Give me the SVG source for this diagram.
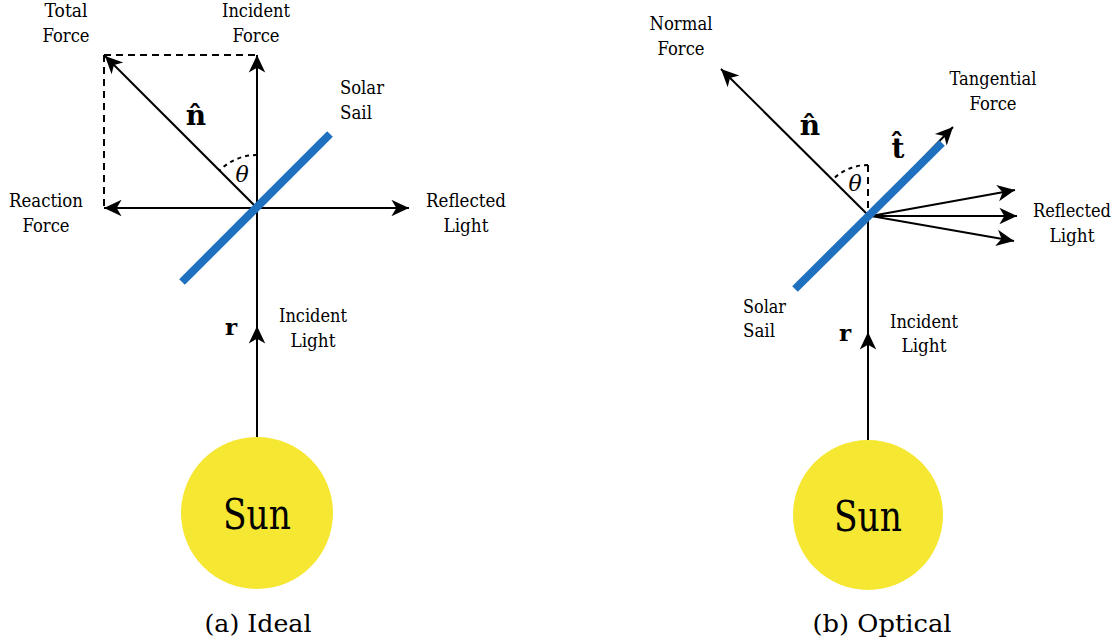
<svg xmlns="http://www.w3.org/2000/svg" width="1120" height="644" viewBox="0 0 1120 644" font-family="DejaVu Serif, serif">
<style>
text{font-family:'DejaVu Serif',serif;fill:#000}
.lbl{font-size:18.5px;text-anchor:middle}
.lbll{font-size:18.5px}
.vec{font-size:28px;font-weight:bold;text-anchor:middle}
.r{font-size:23px;font-weight:bold;text-anchor:middle}
.th{font-size:22px;font-style:italic;text-anchor:middle}
.sun{font-size:43px;text-anchor:middle}
.cap{font-size:23.5px;text-anchor:middle}
.ln{stroke:#000;stroke-width:2;fill:none}
.ar{stroke:#000;stroke-width:2;fill:none;marker-end:url(#ah)}
.dash{stroke:#000;stroke-width:2;fill:none;stroke-dasharray:7 5}
.dot{stroke:#000;stroke-width:2;fill:none;stroke-dasharray:4 4}
.sail{stroke:#1f71bf;stroke-width:8;fill:none}
.sunc{fill:#f6e732}
</style>
<defs>
<marker id="ah" markerUnits="userSpaceOnUse" markerWidth="22" markerHeight="22" viewBox="-18 -9 20 18" refX="0" refY="0" orient="auto">
<path d="M0,0 L-16,-7.5 L-11.5,0 L-16,7.5 Z" fill="#000"/>
</marker>
</defs>

<g id="connectors">
<path class="dash" d="M104,55 H257"/>
<path class="dash" d="M104,55 V208"/>
<path class="ar" d="M257,437 V326"/>
<path class="ar" d="M257,326 V55"/>
<path class="ar" d="M257,208 H104"/>
<path class="ar" d="M257,208 H409"/>
<path class="ar" d="M257,208 L105,56"/>
<path class="dot" d="M257,155 A53,53 0 0 0 219.5,170.5"/>
<path class="ar" d="M868,440 V332"/>
<path class="ln" d="M868,332 V215"/>
<path class="ar" d="M868,215 L721,69"/>
<path class="ar" d="M868,215 L953,127"/>
<path class="dash" d="M868,165 V215"/>
<path class="dot" d="M868,165 A50,50 0 0 0 832.6,179.6"/>
<path class="ar" d="M871,216 L1015,190"/>
<path class="ar" d="M871,216 H1017"/>
<path class="ar" d="M871,216 L1014,241"/>
</g>

<g id="sail-a"><path class="sail" d="M182,282 L330,134"/></g>
<g id="sail-b"><path class="sail" d="M795,289 L942,143"/></g>

<g id="sun-a">
<circle class="sunc" cx="257" cy="513" r="76"/>
<text class="sun" x="257" y="529" textLength="68" lengthAdjust="spacingAndGlyphs">Sun</text>
</g>
<g id="sun-b">
<circle class="sunc" cx="868" cy="515" r="75"/>
<text class="sun" x="868" y="531" textLength="68" lengthAdjust="spacingAndGlyphs">Sun</text>
</g>

<g id="labels-a">
<text class="lbl" x="66" y="17" textLength="43" lengthAdjust="spacingAndGlyphs">Total</text>
<text class="lbl" x="66" y="42" textLength="47" lengthAdjust="spacingAndGlyphs">Force</text>
<text class="lbl" x="256" y="17" textLength="68" lengthAdjust="spacingAndGlyphs">Incident</text>
<text class="lbl" x="256" y="42" textLength="47" lengthAdjust="spacingAndGlyphs">Force</text>
<text class="lbll" x="340" y="94" textLength="44" lengthAdjust="spacingAndGlyphs">Solar</text>
<text class="lbll" x="340" y="119" textLength="32" lengthAdjust="spacingAndGlyphs">Sail</text>
<text class="lbl" x="46" y="207" textLength="74" lengthAdjust="spacingAndGlyphs">Reaction</text>
<text class="lbl" x="46" y="232" textLength="47" lengthAdjust="spacingAndGlyphs">Force</text>
<text class="lbl" x="466" y="207" textLength="80" lengthAdjust="spacingAndGlyphs">Reflected</text>
<text class="lbl" x="466" y="232" textLength="45" lengthAdjust="spacingAndGlyphs">Light</text>
<text class="lbl" x="313" y="322" textLength="68" lengthAdjust="spacingAndGlyphs">Incident</text>
<text class="lbl" x="313" y="347" textLength="45" lengthAdjust="spacingAndGlyphs">Light</text>
<text class="r" x="231" y="335">r</text>
<text class="vec" x="196" y="125">n&#x302;</text>
<text class="th" x="242" y="182">θ</text>
<text class="cap" x="258" y="632" textLength="107" lengthAdjust="spacingAndGlyphs">(a) Ideal</text>
</g>

<g id="labels-b">
<text class="lbl" x="681" y="30" textLength="63" lengthAdjust="spacingAndGlyphs">Normal</text>
<text class="lbl" x="681" y="55" textLength="47" lengthAdjust="spacingAndGlyphs">Force</text>
<text class="lbl" x="993" y="85" textLength="87" lengthAdjust="spacingAndGlyphs">Tangential</text>
<text class="lbl" x="993" y="110" textLength="47" lengthAdjust="spacingAndGlyphs">Force</text>
<text class="lbl" x="1072" y="217" textLength="78" lengthAdjust="spacingAndGlyphs">Reflected</text>
<text class="lbl" x="1072" y="242" textLength="45" lengthAdjust="spacingAndGlyphs">Light</text>
<text class="lbll" x="743" y="313" textLength="43" lengthAdjust="spacingAndGlyphs">Solar</text>
<text class="lbll" x="743" y="337" textLength="32" lengthAdjust="spacingAndGlyphs">Sail</text>
<text class="lbl" x="924" y="328" textLength="68" lengthAdjust="spacingAndGlyphs">Incident</text>
<text class="lbl" x="924" y="352" textLength="45" lengthAdjust="spacingAndGlyphs">Light</text>
<text class="r" x="845" y="341">r</text>
<text class="vec" x="810" y="135">n&#x302;</text>
<text class="vec" x="898" y="158">t&#x302;</text>
<text class="th" x="855" y="191">θ</text>
<text class="cap" x="882" y="632" textLength="139" lengthAdjust="spacingAndGlyphs">(b) Optical</text>
</g>
</svg>
